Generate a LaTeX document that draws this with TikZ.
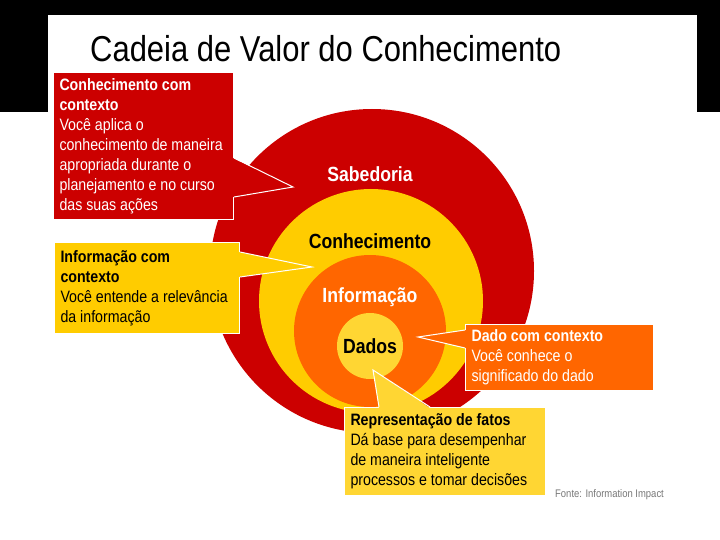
\documentclass[tikz,border=0pt]{standalone}
\usepackage{fontspec}
\setmainfont{Liberation Sans}[FakeStretch=0.86]
\usepackage{xcolor}
\usepackage{tikz}
\usetikzlibrary{calc}
\definecolor{vermelho}{RGB}{204,0,0}
\definecolor{amarelo}{RGB}{255,204,0}
\definecolor{laranja}{RGB}{255,102,0}
\definecolor{amareloclaro}{RGB}{255,214,51}
\definecolor{cinzafonte}{RGB}{120,120,120}

\begin{document}
\begin{tikzpicture}[x=1pt, y=-1pt,
      circulo/.style={circle, inner sep=0pt},
      rotulo/.style={font=\fontsize{20.5}{24}\selectfont\bfseries,
                     inner sep=0pt, anchor=base},
      caixa/.style={draw=white, line width=1pt, anchor=north west,
                    align=flush left, inner xsep=6pt, inner ysep=0pt,
                    font=\fontsize{16.5}{20}\selectfont},
      ponta/.style={draw=white, line width=1pt}]
    \useasboundingbox (0,0) rectangle (720,540);
    % --- fundo ---
    \fill[black] (0,0) rectangle (720,112);
    \fill[white] (48,15) rectangle (697,540);

    % --- titulo ---
    \node[anchor=base west, inner sep=0pt,
          font=\fontsize{36}{40}\selectfont] (titulo) at (90,62)
          {Cadeia de Valor do Conhecimento};

    % --- circulos ---
    \node[circulo, fill=vermelho, minimum size=324] (sabedoria) at (372,271) {};
    \node[circulo, fill=amarelo, minimum size=224] (conhecimento) at (371,301) {};
    \node[circulo, fill=laranja, minimum size=152] (informacao) at (370,331) {};
    \node[circulo, fill=amareloclaro, minimum size=66] (dados) at (370,346) {};

    % rotulos dos circulos
    \node[rotulo, text=white] (txtsab) at (370,182) {Sabedoria};
    \node[rotulo] (txtcon) at (370,248) {Conhecimento};
    \node[rotulo, text=white] (txtinf) at (370,302) {Informação};
    \node[rotulo] (txtdad) at (370,353) {Dados};

    % --- caixa Sabedoria ---
    \node[caixa, fill=vermelho, text=white, text width=168,
          minimum width=180, minimum height=147] (cxsab) at (53,72)
          {{\bfseries Conhecimento com\\ contexto}\\ Você aplica o\\
           conhecimento de maneira\\ apropriada durante o\\
           planejamento e no curso\\ das suas ações};
    \coordinate (pontasab) at (293,187);
    \fill[vermelho] ($(cxsab.north east)+(-1,86)$) -- (pontasab)
          -- ($(cxsab.north east)+(-1,125)$) -- cycle;
    \draw[ponta] ($(cxsab.north east)+(0,86)$) -- (pontasab)
          -- ($(cxsab.north east)+(0,125)$);

    % --- caixa Conhecimento ---
    \node[caixa, fill=amarelo, text width=173,
          minimum width=185, minimum height=91] (cxcon) at (54,242)
          {{\bfseries Informação com\\ contexto}\\ Você entende a relevância\\
           da informação};
    \coordinate (pontacon) at (312,267);
    \fill[amarelo] ($(cxcon.north east)+(-1,10)$) -- (pontacon)
          -- ($(cxcon.north east)+(-1,35)$) -- cycle;
    \draw[ponta] ($(cxcon.north east)+(0,10)$) -- (pontacon)
          -- ($(cxcon.north east)+(0,35)$);

    % --- caixa Informacao ---
    \node[caixa, fill=laranja, text=white, text width=176,
          minimum width=188, minimum height=66] (cxinf) at (465,324)
          {{\bfseries Dado com contexto}\\ Você conhece o\\
           significado do dado};
    \coordinate (pontainf) at (418,337);
    \fill[laranja] ($(cxinf.north west)+(1,6)$) -- (pontainf)
          -- ($(cxinf.north west)+(1,24)$) -- cycle;
    \draw[ponta] ($(cxinf.north west)+(0,6)$) -- (pontainf)
          -- ($(cxinf.north west)+(0,24)$);

    % --- caixa Dados ---
    \node[caixa, fill=amareloclaro, text width=189,
          minimum width=201, minimum height=88] (cxdad) at (344,407)
          {{\bfseries Representação de fatos}\\ Dá base para desempenhar\\
           de maneira inteligente\\ processos e tomar decisões};
    \coordinate (pontadad) at (373,370);
    \fill[amareloclaro] ($(cxdad.north west)+(35,1)$) -- (pontadad)
          -- ($(cxdad.north west)+(86,1)$) -- cycle;
    \draw[ponta] ($(cxdad.north west)+(35,0)$) -- (pontadad)
          -- ($(cxdad.north west)+(86,0)$);

    % fonte
    \node[anchor=base west, inner sep=0pt, text=cinzafonte,
          font=\fontsize{11}{12}\selectfont] (fonte) at (555,497)
          {Fonte: Information Impact};
  \end{tikzpicture}
\end{document}
